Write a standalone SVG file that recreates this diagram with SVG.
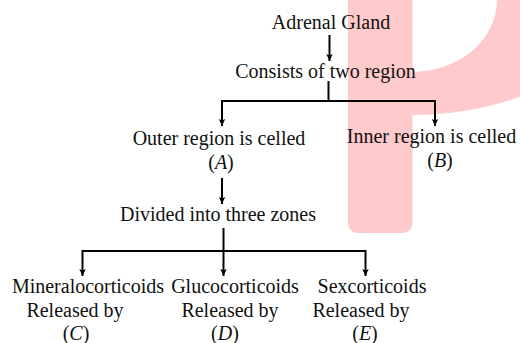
<svg xmlns="http://www.w3.org/2000/svg" width="520" height="343" viewBox="0 0 520 343">
<style>
text{font-family:'Liberation Serif','DejaVu Serif',serif;font-size:20px;fill:#111;text-anchor:middle}
.it{font-style:italic}
.c{fill:none;stroke:#000;stroke-width:2}
.wm{fill:#FFCACB}
</style>
<defs>
<marker id="ah" markerUnits="userSpaceOnUse" markerWidth="8" markerHeight="8" refX="7" refY="4" orient="auto">
<path d="M0,0.8 L7,4 L0,7.2 L1.6,4 Z" fill="#000"/>
</marker>
<clipPath id="bowlclip"><rect x="412" y="-20" width="220" height="200"/></clipPath>
</defs>
<rect width="520" height="343" fill="#fff"/>
<g id="watermark">
<g clip-path="url(#bowlclip)">
<ellipse class="wm" cx="412" cy="0" rx="199" ry="115"/>
<ellipse cx="412" cy="0" rx="85" ry="72" fill="#fff"/>
</g>
<path class="wm" d="M348,-10 H412.5 V222 Q412.5,233 401,233 H359 Q348,233 348,222 Z"/>
</g>
<g id="connectors">
<line class="c" x1="329.5" y1="35" x2="329.5" y2="61" marker-end="url(#ah)"/>
<polyline class="c" points="328.5,81 328.5,101"/>
<polyline class="c" points="222,126 222,101 435,101 435,126" marker-end="url(#ah)"/>
<line class="c" x1="222" y1="101" x2="222" y2="126" marker-end="url(#ah)"/>
<line class="c" x1="222" y1="178" x2="222" y2="204" marker-end="url(#ah)"/>
<line class="c" x1="223.5" y1="228" x2="223.5" y2="251"/>
<line class="c" x1="82" y1="251" x2="366" y2="251"/>
<line class="c" x1="82.5" y1="250" x2="82.5" y2="276" marker-end="url(#ah)"/>
<line class="c" x1="223.5" y1="250" x2="223.5" y2="276" marker-end="url(#ah)"/>
<line class="c" x1="365.5" y1="250" x2="365.5" y2="276" marker-end="url(#ah)"/>
</g>
<g font-family="Liberation Serif, DejaVu Serif, serif">
<g id="n-adrenal"><text x="331" y="29">Adrenal Gland</text></g>
<g id="n-consists"><text x="325.5" y="78">Consists of two region</text></g>
<g id="n-outer"><text x="219" y="145">Outer region is celled</text><text x="221" y="169">(<tspan class="it">A</tspan>)</text></g>
<g id="n-inner"><text x="431.5" y="143">Inner region is celled</text><text x="440" y="167">(<tspan class="it">B</tspan>)</text></g>
<g id="n-divided"><text x="218" y="221">Divided into three zones</text></g>
<g id="n-mineral"><text x="88" y="293">Mineralocorticoids</text><text x="75" y="317">Released by</text><text x="76" y="340">(<tspan class="it">C</tspan>)</text></g>
<g id="n-gluco"><text x="235" y="293">Glucocorticoids</text><text x="230" y="317">Released by</text><text x="225" y="340">(<tspan class="it">D</tspan>)</text></g>
<g id="n-sex"><text x="372" y="292.5">Sexcorticoids</text><text x="361" y="316.5">Released by</text><text x="365" y="340">(<tspan class="it">E</tspan>)</text></g>
</g>
</svg>
